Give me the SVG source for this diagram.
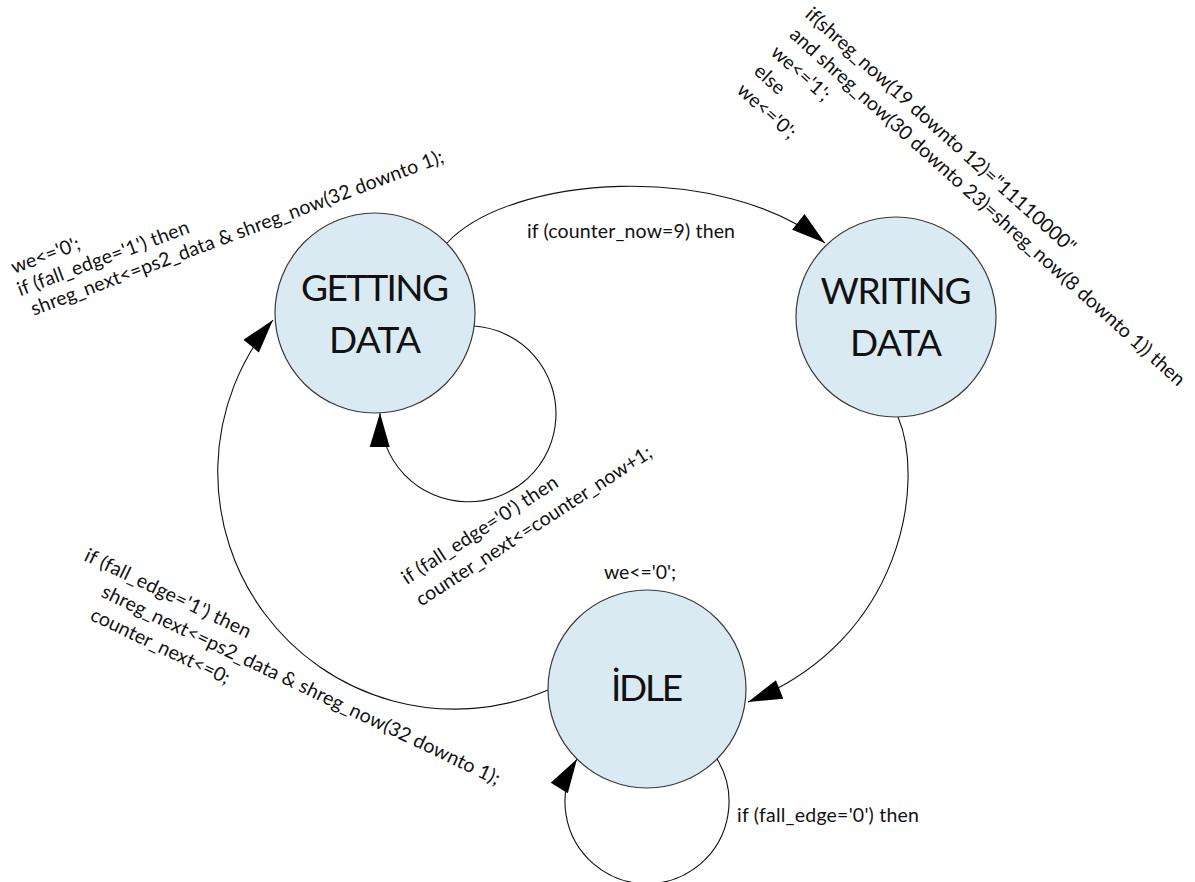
<svg xmlns="http://www.w3.org/2000/svg" width="1195" height="882" viewBox="0 0 1195 882">
<style>
  .node circle { fill: #d9eaf2; stroke: #3a3a3a; stroke-width: 1.2; }
  .nl { font-family: Lato, "Open Sans", sans-serif; font-size: 37px; fill: #111; text-anchor: middle; }
  .t { font-family: Lato, "Open Sans", sans-serif; font-size: 19.5px; fill: #111; }
  .c { fill: none; stroke: #111; stroke-width: 1.1; marker-end: url(#arr); }
</style>
<defs>
  <marker id="arr" markerUnits="userSpaceOnUse" markerWidth="36" markerHeight="22" refX="34" refY="10" orient="auto" overflow="visible">
    <path d="M0,0 L34,10 L0,20 Z" fill="#000"/>
  </marker>
</defs>
<rect width="1195" height="882" fill="#fff"/>

<g id="connectors">
  <path id="e-getting-writing" class="c" d="M447,243 C510,175 720,160 825,243"/>
  <path id="e-writing-idle" class="c" d="M898,417 C925,480 905,640 748,702"/>
  <path id="e-idle-getting" class="c" d="M548,690 A237,237 0 0 1 273,320"/>
  <path id="e-getting-loop" class="c" d="M474,326 A88,88 0 1 1 380,413"/>
  <path id="e-idle-loop" class="c" d="M717,759 A82,82 0 1 1 577,759"/>
</g>

<g id="node-getting" class="node">
  <circle cx="375" cy="313" r="100"/>
  <text class="nl" x="375" y="301" textLength="148">GETTING</text>
  <text class="nl" x="375" y="353" textLength="92">DATA</text>
</g>
<g id="node-writing" class="node">
  <circle cx="896" cy="317" r="100"/>
  <text class="nl" x="896" y="304" textLength="151">WRITING</text>
  <text class="nl" x="896" y="356" textLength="92">DATA</text>
</g>
<g id="node-idle" class="node">
  <circle cx="647" cy="689" r="99"/>
  <text class="nl" x="647" y="701" textLength="72">İDLE</text>
</g>

<g id="labels">
  <text class="t" x="527" y="238" textLength="208">if (counter_now=9) then</text>
  <text class="t" x="737" y="822" textLength="182">if (fall_edge='0') then</text>
  <text class="t" x="640" y="579" text-anchor="middle" textLength="72">we&lt;='0';</text>

  <g id="getting-actions" transform="translate(14,274) rotate(-20.5)">
    <text class="t" x="0" y="0" textLength="72">we&lt;='0';</text>
    <text class="t" x="-2" y="23" textLength="182">if (fall_edge='1') then</text>
    <text class="t" x="4" y="46" textLength="439">shreg_next&lt;=ps2_data &amp; shreg_now(32 downto 1);</text>
  </g>

  <g id="writing-actions" transform="translate(804,16) rotate(42)">
    <text class="t" x="0" y="0" textLength="356">if(shreg_now(19 downto 12)="11110000"</text>
    <text class="t" x="2" y="25.5" textLength="524">and shreg_now(30 downto 23)=shreg_now(8 downto 1)) then</text>
    <text class="t" x="0" y="51" textLength="72">we&lt;='1';</text>
    <text class="t" x="0" y="76.5" textLength="34">else</text>
    <text class="t" x="0" y="102" textLength="72">we&lt;='0';</text>
  </g>

  <g id="loop-actions" transform="translate(407,585) rotate(-33)">
    <text class="t" x="0" y="0" textLength="182">if (fall_edge='0') then</text>
    <text class="t" x="0" y="26" textLength="277">counter_next&lt;=counter_now+1;</text>
  </g>

  <g id="idle-actions" transform="translate(83,560) rotate(25.5)">
    <text class="t" x="0" y="0" textLength="182">if (fall_edge='1') then</text>
    <text class="t" x="31" y="25.5" textLength="439">shreg_next&lt;=ps2_data &amp; shreg_now(32 downto 1);</text>
    <text class="t" x="31" y="51" textLength="152">counter_next&lt;=0;</text>
  </g>
</g>
</svg>
